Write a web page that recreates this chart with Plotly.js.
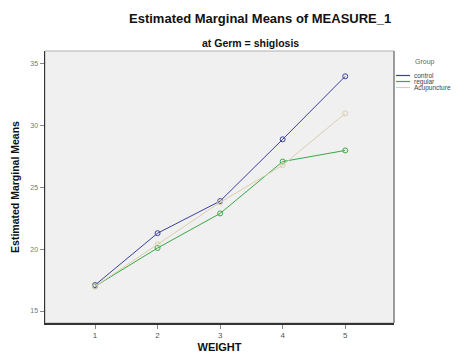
<!DOCTYPE html>
<html>
<head>
<meta charset="utf-8">
<script src="https://cdn.plot.ly/plotly-3.0.1.min.js"></script>
<style>html,body{margin:0;padding:0;background:#fff;}#chart{width:465px;height:353px;}</style>
</head>
<body>
<div id="chart"></div>
<script>
var weights = [1, 2, 3, 4, 5];
var groupNames = ["control", "regular", "Acupuncture"];
var controlMeans = [17.1, 21.3, 23.9, 28.9, 34.0];
var regularMeans = [17.0, 20.1, 22.9, 27.1, 28.0];
var acupunctureMeans = [17.0, 20.4, 23.8, 26.8, 31.0];
var yTicks = [15, 20, 25, 30, 35];
var seriesColors = ["#3a3f9e", "#3aa845", "#d9cfae"];

var series = [controlMeans, regularMeans, acupunctureMeans];
var traces = series.map(function (vals, i) {
  return {
    x: weights,
    y: vals,
    name: groupNames[i],
    type: "scatter",
    mode: "lines+markers",
    line: {color: seriesColors[i], width: 1},
    marker: {symbol: "circle-open", size: 5, color: seriesColors[i], line: {width: 1}},
    showlegend: false
  };
});

// custom compact legend (paper coordinates)
var W = 465, H = 353, mL = 45, mR = 71, mT = 51, mB = 30;
var pw = W - mL - mR, ph = H - mT - mB;
function px2x(p) { return (p - mL) / pw; }
function py2y(p) { return 1 - (p - mT) / ph; }

var annotations = [
  {text: "<b>Estimated Marginal Means of MEASURE_1</b>", xref: "paper", yref: "paper",
   x: px2x(260), y: py2y(19), xanchor: "center", yanchor: "middle", showarrow: false,
   font: {size: 13, color: "#111"}},
  {text: "<b>at Germ = shiglosis</b>", xref: "paper", yref: "paper",
   x: px2x(250), y: py2y(43), xanchor: "center", yanchor: "middle", showarrow: false,
   font: {size: 10.5, color: "#111"}},
  {text: "Group", xref: "paper", yref: "paper", x: px2x(413), y: py2y(62),
   xanchor: "left", yanchor: "middle", showarrow: false, font: {size: 7, color: "#666"}}
];
var shapes = [
  {type: "rect", xref: "paper", yref: "paper", x0: 0, x1: 1, y0: 0, y1: 1,
   line: {color: "#b0b0b0", width: 1}, layer: "below"},
  {type: "line", xref: "paper", yref: "paper", x0: 1, x1: 1, y0: 0, y1: 1,
   line: {color: "#8a8a8a", width: 1.5}}
];
var legendRows = [75.5, 81.5, 87.5];
groupNames.forEach(function (name, i) {
  shapes.push({type: "line", xref: "paper", yref: "paper",
    x0: px2x(396), x1: px2x(410), y0: py2y(legendRows[i]), y1: py2y(legendRows[i]),
    line: {color: seriesColors[i], width: 1.2}});
  annotations.push({text: name, xref: "paper", yref: "paper", x: px2x(412), y: py2y(legendRows[i]),
    xanchor: "left", yanchor: "middle", showarrow: false, font: {size: 6.5, color: "#444"}});
});

var layout = {
  width: W, height: H,
  margin: {l: mL, r: mR, t: mT, b: mB},
  paper_bgcolor: "#ffffff",
  plot_bgcolor: "#f0f0f0",
  font: {family: "Liberation Sans, Arial, sans-serif", color: "#000"},
  xaxis: {
    range: [0.2, 5.78],
    tickvals: weights,
    ticktext: weights.map(String),
    ticks: "outside", ticklen: 4, tickcolor: "#888",
    tickfont: {size: 8, color: "#555"},
    showgrid: false, zeroline: false,
    showline: true, linecolor: "#333", linewidth: 1.5, mirror: false,
    title: {text: "<b>WEIGHT</b>", font: {size: 11, color: "#111"}, standoff: 6}
  },
  yaxis: {
    range: [14.03, 36.05],
    tickvals: yTicks,
    ticktext: yTicks.map(String),
    ticks: "outside", ticklen: 4, tickcolor: "#888",
    tickfont: {size: 7, color: "#777"},
    showgrid: false, zeroline: false,
    showline: true, linecolor: "#333", linewidth: 1.5, mirror: false,
    title: {text: "<b>Estimated Marginal Means</b>", font: {size: 10.5, color: "#111"}, standoff: 8}
  },
  annotations: annotations,
  shapes: shapes,
  showlegend: false
};

Plotly.newPlot("chart", traces, layout, {staticPlot: true, displayModeBar: false});
</script>
</body>
</html>
